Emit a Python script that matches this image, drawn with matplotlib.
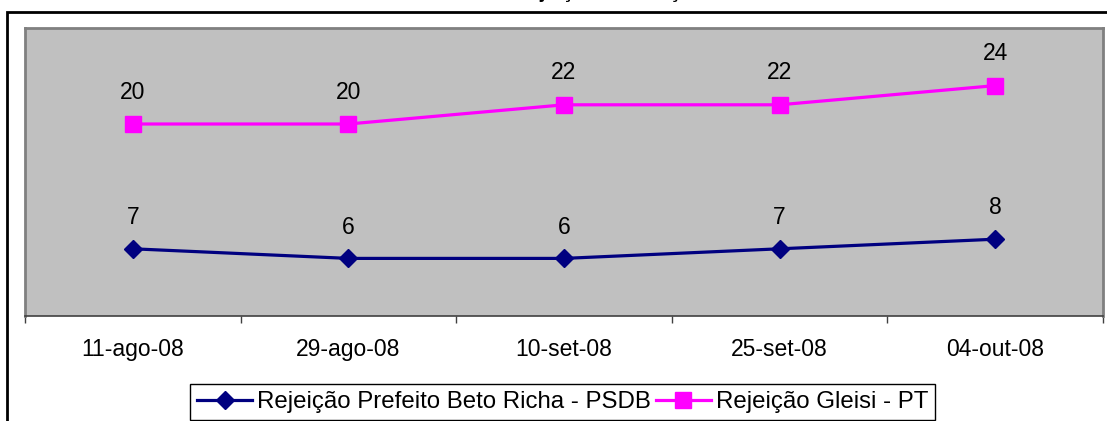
import matplotlib
matplotlib.use("Agg")
import matplotlib.pyplot as plt
from matplotlib.patches import Rectangle

plt.rcParams['font.family'] = ['Liberation Sans', 'DejaVu Sans']

# Survey dates and rejection percentages
dates = ["11-ago-08", "29-ago-08", "10-set-08", "25-set-08", "04-out-08"]
richa = [7, 6, 6, 7, 8]
gleisi = [20, 20, 22, 22, 24]
label_richa = "Rejeição Prefeito Beto Richa - PSDB"
label_gleisi = "Rejeição Gleisi - PT"
title = "Rejeição - Evolução"

W, H = 1107, 421
FS = 16.5
fig = plt.figure(figsize=(W / 100, H / 100), dpi=100)
fig.patch.set_facecolor("white")

# Chart frame (runs off the right and bottom edges)
fig.patches.append(Rectangle((7 / W, -0.05), 1.1, 1 - 12 / H + 0.05,
                             transform=fig.transFigure, fill=False,
                             edgecolor="black", linewidth=2.0, clip_on=False))

fig.text(514 / W, 1 + 2 / H, title, ha="left", va="baseline",
         fontsize=14.5, fontweight="bold")

ax = fig.add_axes([25 / W, 1 - 316 / H, (1103 - 25) / W, (316 - 28) / H])
ax.set_facecolor("#C0C0C0")

x = list(range(len(dates)))
l1, = ax.plot(x, richa, color="#000080", linewidth=2.3, marker="D",
              markersize=9.5, markerfacecolor="#000080",
              markeredgecolor="#000080")
l2, = ax.plot(x, gleisi, color="#FF00FF", linewidth=2.3, marker="s",
              markersize=12, markerfacecolor="#FF00FF",
              markeredgecolor="#FF00FF")

for xi, v in zip(x, richa):
    ax.annotate(str(v), (xi, v), xytext=(0, 22.5), textcoords="offset points",
                ha="center", va="center", fontsize=FS)
for xi, v in zip(x, gleisi):
    ax.annotate(str(v), (xi, v), xytext=(0, 23), textcoords="offset points",
                ha="center", va="center", fontsize=FS)

ax.set_xlim(-0.5, len(dates) - 0.5)
ax.set_ylim(0, 30)
ax.set_yticks([])
ax.set_xticks(x)
ax.set_xticklabels(dates, fontsize=FS)
ax.set_xticks([i - 0.5 for i in range(len(dates) + 1)], minor=True)
ax.tick_params(axis="x", which="major", length=0, pad=16)
ax.tick_params(axis="x", which="minor", length=5, width=1.0, color="#404040",
               direction="out")

for side in ["top", "left", "right"]:
    ax.spines[side].set_color("#808080")
    ax.spines[side].set_linewidth(2.0)
ax.spines["bottom"].set_color("#404040")
ax.spines["bottom"].set_linewidth(1.2)

leg = fig.legend([l1, l2], [label_richa, label_gleisi], loc="upper center",
                 bbox_to_anchor=(562.5 / W, 1 - 384 / H), ncol=2,
                 fontsize=17.3, frameon=True, fancybox=False, edgecolor="black",
                 facecolor="white", framealpha=1, borderpad=0.3,
                 handlelength=2.3, handletextpad=0.2, columnspacing=0.2,
                 borderaxespad=0)
leg.get_frame().set_linewidth(1.0)

fig.savefig("out.png", dpi=100)
